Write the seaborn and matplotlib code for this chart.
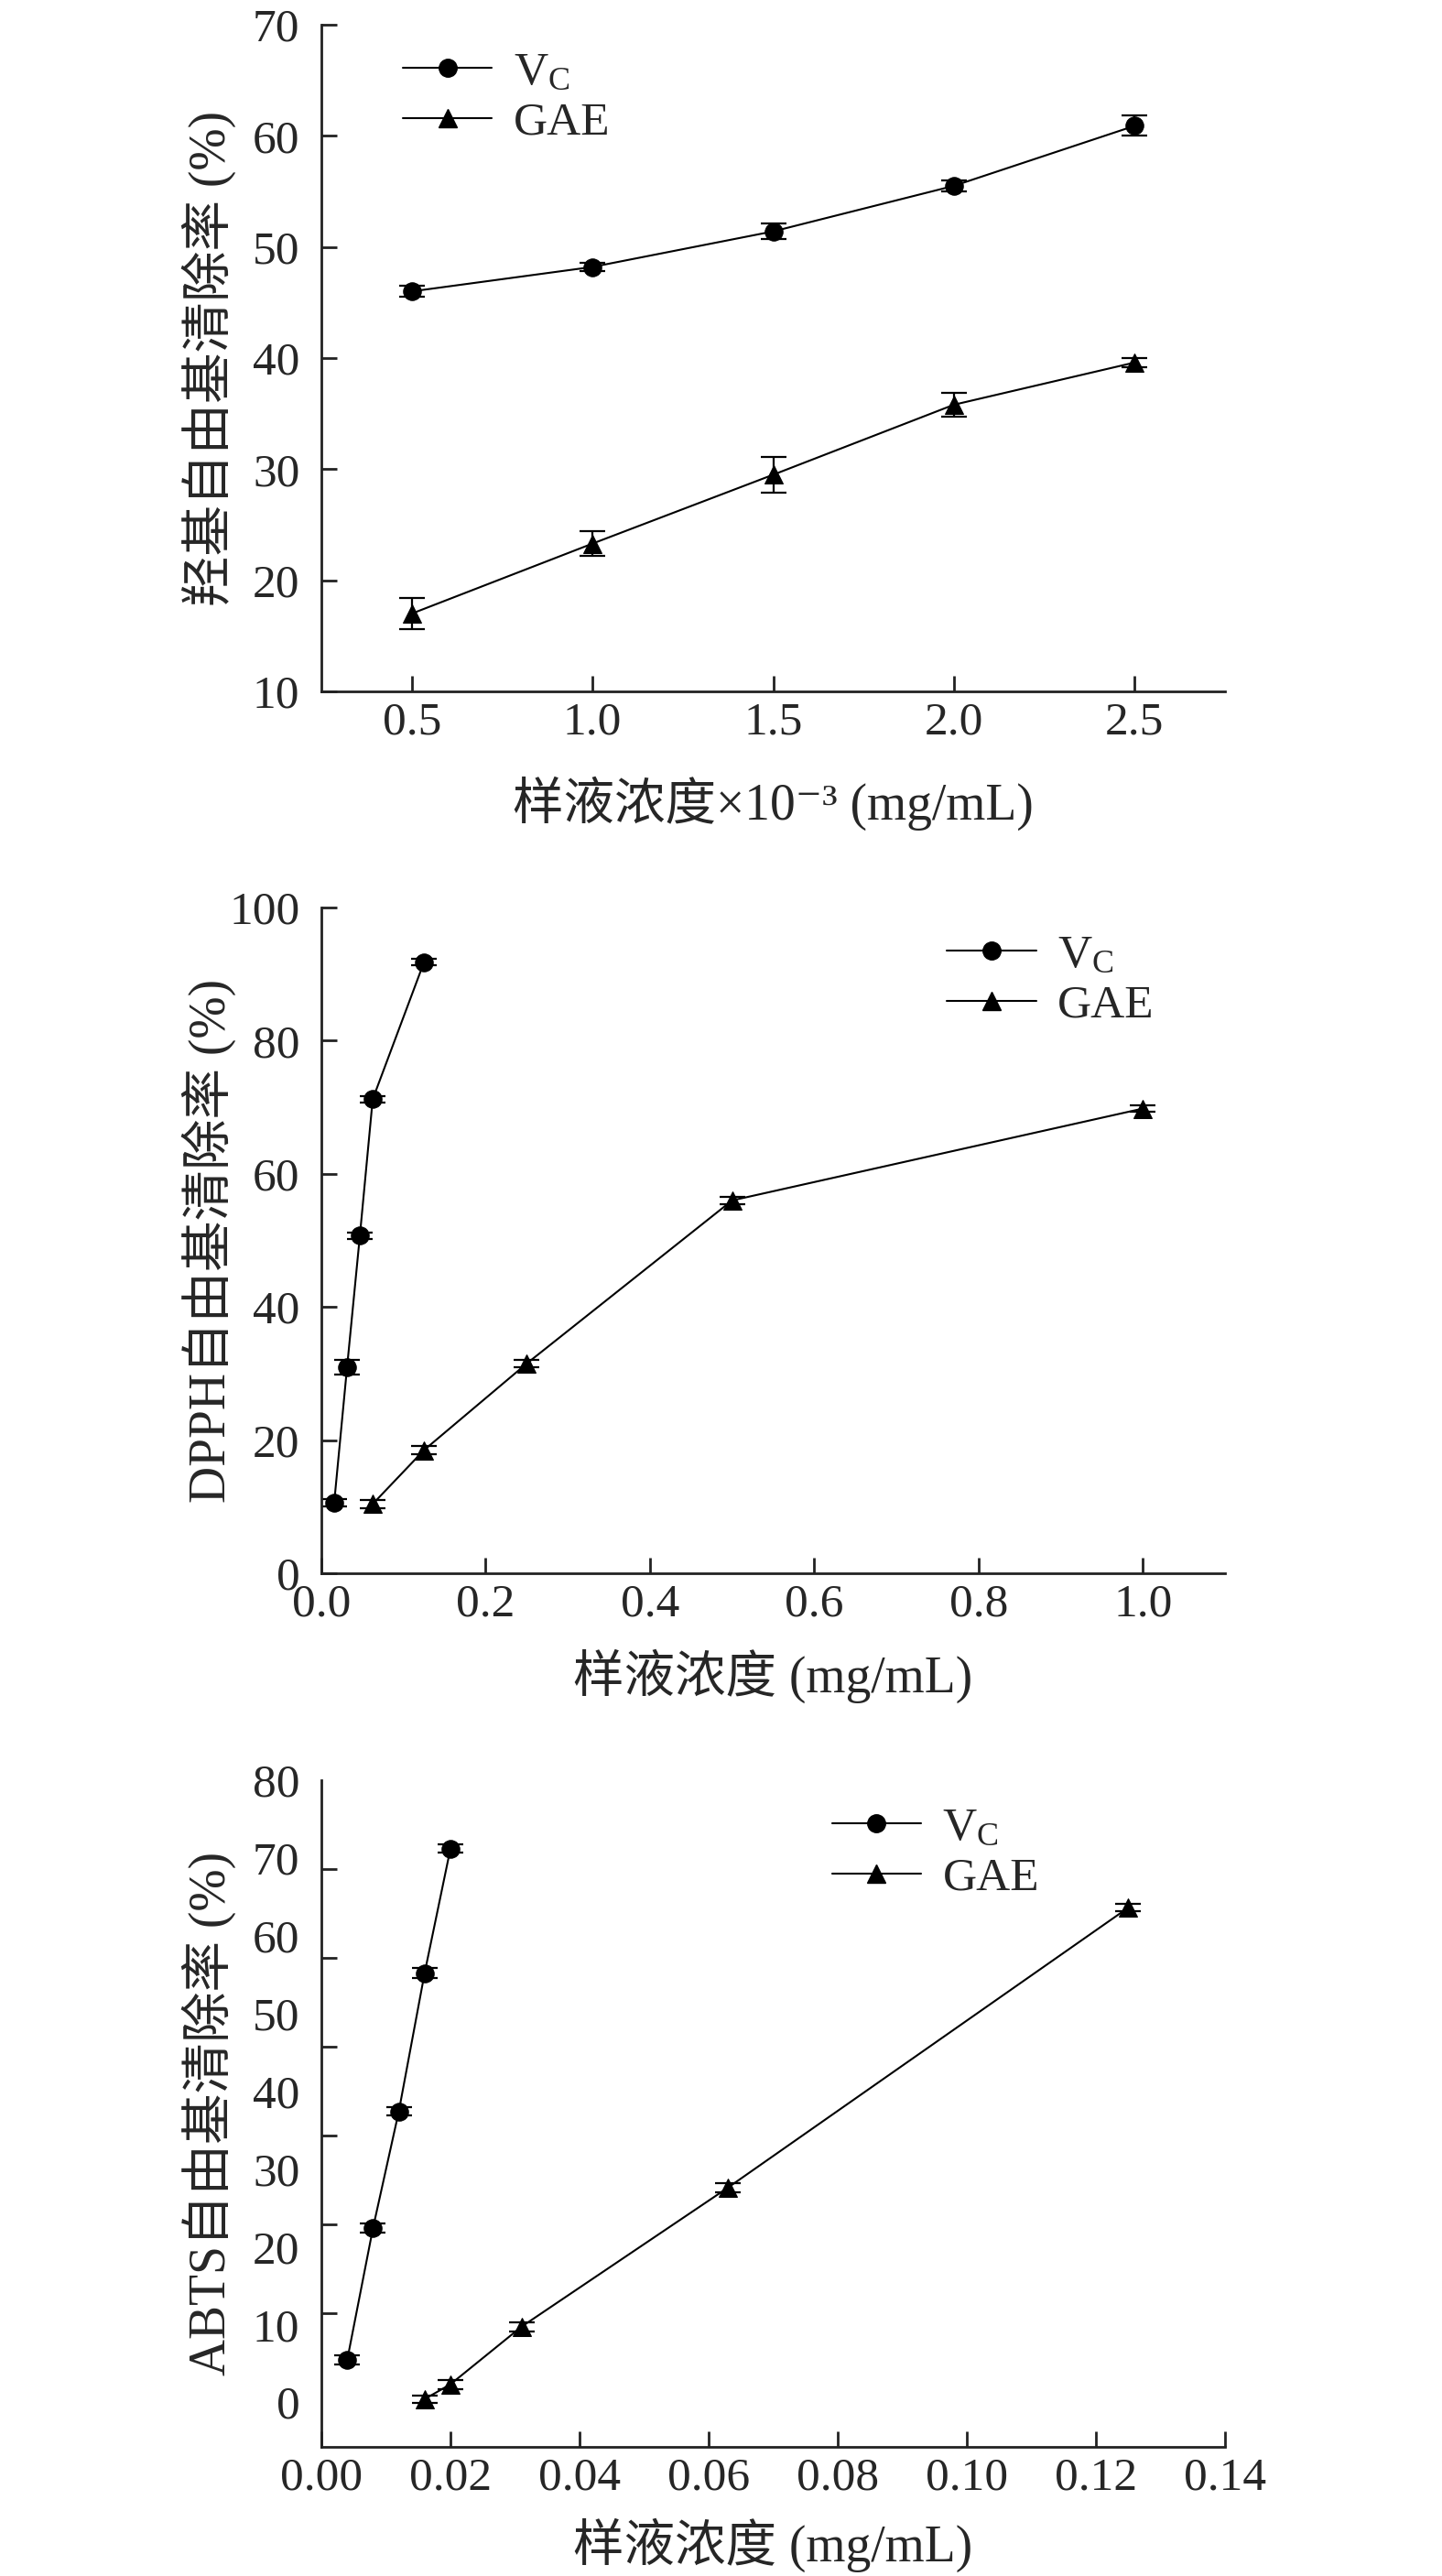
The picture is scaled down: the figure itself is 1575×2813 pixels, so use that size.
import numpy as np
import pandas as pd
import matplotlib
matplotlib.use('Agg')
import matplotlib.pyplot as plt
from matplotlib.lines import Line2D
import seaborn as sns

# data
samples = ['VC', 'GAE']

oh_conc = [0.5, 1.0, 1.5, 2.0, 2.5]
oh_vc = [46.0, 48.2, 51.4, 55.5, 60.9]
oh_vc_err = [0.5, 0.4, 0.7, 0.5, 0.9]
oh_gae = [17.0, 23.3, 29.5, 35.8, 39.6]
oh_gae_err = [1.4, 1.1, 1.6, 1.1, 0.4]

dpph_vc_conc = [0.015625, 0.03125, 0.046875, 0.0625, 0.125]
dpph_vc = [10.6, 30.9, 50.7, 71.2, 91.8]
dpph_vc_err = [0.6, 1.1, 0.5, 0.5, 0.5]
dpph_gae_conc = [0.0625, 0.125, 0.25, 0.5, 1.0]
dpph_gae = [10.4, 18.5, 31.5, 56.0, 69.8]
dpph_gae_err = [0.6, 0.6, 0.5, 0.6, 0.5]

abts_vc_conc = [0.004, 0.008, 0.012, 0.016, 0.020]
abts_vc = [5.4, 22.4, 37.4, 55.2, 71.2]
abts_vc_err = [0.6, 0.6, 0.5, 0.6, 0.5]
abts_gae_conc = [0.016, 0.020, 0.031, 0.063, 0.125]
abts_gae = [0.4, 2.3, 9.7, 27.6, 63.6]
abts_gae_err = [0.5, 0.6, 0.6, 0.6, 0.5]

sns.set_style('ticks')
plt.rcParams['font.family'] = ['Liberation Serif', 'Noto Sans CJK SC', 'DejaVu Sans']
plt.rcParams['mathtext.fontset'] = 'custom'
plt.rcParams['mathtext.rm'] = 'Liberation Serif'
plt.rcParams['mathtext.it'] = 'Liberation Serif:italic'
plt.rcParams['axes.unicode_minus'] = False

TICK_FS = 37
LABEL_FS = 40
VC_LABEL = r'V$_{\mathrm{C}}$'
MS = 14


def make_df(vc_x, vc_y, vc_e, gae_x, gae_y, gae_e):
    return pd.DataFrame({
        'conc': list(vc_x) + list(gae_x),
        'rate': list(vc_y) + list(gae_y),
        'err': list(vc_e) + list(gae_e),
        'sample': ['VC'] * len(vc_x) + ['GAE'] * len(gae_x),
    })


def draw_panel(ax, df, xlabel, ylabel, legend_xy, label_y):
    sns.lineplot(data=df, x='conc', y='rate', style='sample',
                 markers={'VC': 'o', 'GAE': '^'}, dashes=False,
                 color='black', linewidth=1.5, markersize=MS,
                 markeredgecolor='black', legend=False, ax=ax)
    for s in samples:
        d = df[df['sample'] == s]
        ax.errorbar(d['conc'], d['rate'], yerr=d['err'], fmt='none',
                    ecolor='black', elinewidth=1.6, capsize=10, capthick=1.6)
    handles = [
        Line2D([], [], color='black', lw=1.5, marker='o', markersize=MS),
        Line2D([], [], color='black', lw=1.5, marker='^', markersize=MS),
    ]
    ax.legend(handles, [VC_LABEL, 'GAE'], loc='upper left',
              bbox_to_anchor=legend_xy, frameon=False, fontsize=TICK_FS,
              handlelength=1.9, handletextpad=0.45, labelspacing=0.15,
              borderpad=0, borderaxespad=0)
    sns.despine(ax=ax)
    for sp in ['left', 'bottom']:
        ax.spines[sp].set_linewidth(2.0)
        ax.spines[sp].set_color('#222222')
    ax.tick_params(axis='both', direction='in', length=12, width=2.0,
                   labelsize=TICK_FS, color='#222222')
    ax.tick_params(axis='x', pad=8)
    ax.tick_params(axis='y', pad=17)
    ax.set_xlabel(xlabel, fontsize=LABEL_FS)
    ax.set_ylabel(ylabel, fontsize=LABEL_FS)
    ax.xaxis.set_label_coords(0.5, label_y)
    ax.xaxis.label.set_va('center')
    ax.yaxis.set_label_coords(-0.124, 0.5)
    ax.yaxis.label.set_va('center')


fig = plt.figure(figsize=(15.75, 28.13), dpi=100)
W, H = 1575, 2813


def add_axes(left, top, right, bottom):
    return fig.add_axes([left / W, 1 - bottom / H, (right - left) / W, (bottom - top) / H])


# panel 1: hydroxyl radical
ax1 = add_axes(351, 27, 1338, 755)
df1 = make_df(oh_conc, oh_vc, oh_vc_err, oh_conc, oh_gae, oh_gae_err)
draw_panel(ax1, df1, '样液浓度×10⁻³ (mg/mL)', '羟基自由基清除率 (%)',
           (0.09, 0.96), -0.168)
ax1.set_xlim(0.25, 2.75)
ax1.set_ylim(10, 70)
ax1.set_xticks(oh_conc)
ax1.set_xticklabels(['0.5', '1.0', '1.5', '2.0', '2.5'])
ax1.set_yticks(np.arange(10, 71, 10))

# panel 2: DPPH
ax2 = add_axes(351, 991, 1338, 1718)
df2 = make_df(dpph_vc_conc, dpph_vc, dpph_vc_err, dpph_gae_conc, dpph_gae, dpph_gae_err)
draw_panel(ax2, df2, '样液浓度 (mg/mL)', 'DPPH自由基清除率 (%)',
           (0.692, 0.96), -0.154)
ax2.set_xlim(0, 1.1)
ax2.set_ylim(0, 100)
ax2.set_xticks(np.arange(0, 1.01, 0.2))
ax2.set_xticklabels(['0.0', '0.2', '0.4', '0.6', '0.8', '1.0'])
ax2.set_yticks(np.arange(0, 101, 20))

# panel 3: ABTS
ax3 = add_axes(351, 1944, 1338, 2672)
df3 = make_df(abts_vc_conc, abts_vc, abts_vc_err, abts_gae_conc, abts_gae, abts_gae_err)
draw_panel(ax3, df3, '样液浓度 (mg/mL)', 'ABTS自由基清除率 (%)',
           (0.565, 0.96), -0.148)
ax3.set_xlim(0, 0.14)
ax3.set_ylim(-5.75, 80)
ax3.set_xticks(np.arange(0, 0.141, 0.02))
ax3.set_xticklabels(['0.00', '0.02', '0.04', '0.06', '0.08', '0.10', '0.12', '0.14'])
# tick marks in the original do not line up with the labels
ax3.set_yticks(np.arange(0, 81, 10))
ax3.set_yticks(np.linspace(0, 80, 8), minor=True)
ax3.tick_params(axis='y', which='major', length=0)
ax3.tick_params(axis='y', which='minor', direction='in', length=12, width=2.0, color='#222222')

fig.savefig('out.png', dpi=100, facecolor='white')
